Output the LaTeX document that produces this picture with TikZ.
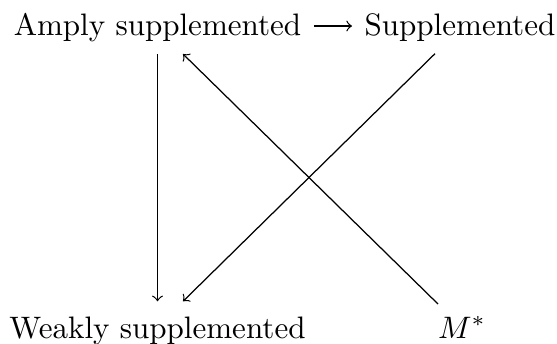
\documentclass[tikz,border=0pt]{standalone}
\usetikzlibrary{calc}
\begin{document}
\begin{tikzpicture}[x=0.322pt,y=-0.322pt,
  lbl/.style={inner sep=0pt, anchor=base},
  arr/.style={->, line width=0.4pt}]
\useasboundingbox (0,0) rectangle (557,343);
\node[lbl] (amply) at (157.5,35) {Amply supplemented};
\node[lbl] (supp) at (460,35) {Supplemented};
\node[lbl] (weakly) at (157.5,338) {Weakly supplemented};
\node[lbl] (mstar) at (462,338) {$M^*$};
\draw[arr] ($(amply.base east)+(12,-9)$) -- ($(supp.base west)+(-12,-9)$);
\draw[arr] ($(amply.south)+(0,12)$) -- ($(weakly.north)+(0,-14.5)$);
\draw[arr] ($(supp.south)+(-25,12)$) -- ($(weakly.north)+(25.5,-14.5)$);
\draw[arr] ($(mstar.north)+(-24,-12)$) -- ($(amply.south)+(25.5,12)$);
\end{tikzpicture}
\end{document}
